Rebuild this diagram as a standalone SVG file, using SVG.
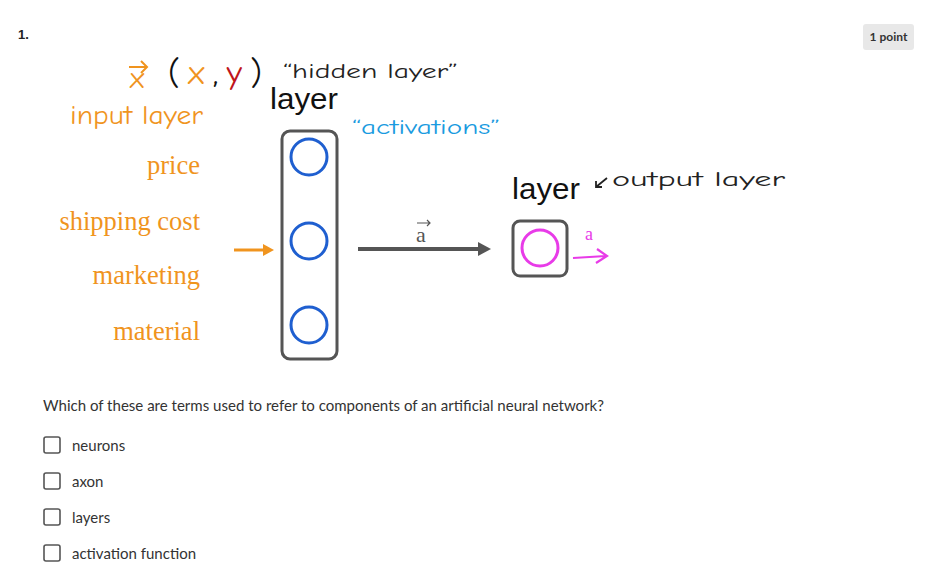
<svg xmlns="http://www.w3.org/2000/svg" width="936" height="579" viewBox="0 0 936 579">
<style>
.hand{font-family:"Comic Neue","DejaVu Sans",sans-serif}
.serif{font-family:"Liberation Serif","DejaVu Serif",serif;fill:#f0941e;font-size:26.5px}
.ui{font-family:"Lato","Liberation Sans",sans-serif;font-size:15px;fill:#333}
.box{fill:none;stroke:#555;stroke-width:3}
.hid{fill:none;stroke:#1f5fd0;stroke-width:3}
.chk{fill:#fff;stroke:#555;stroke-width:1.6}
</style>
<rect width="936" height="579" fill="#fff"/>
<text x="18" y="39" font-family="Liberation Sans,sans-serif" font-weight="bold" font-size="13" fill="#222">1.</text>
<g id="badge"><rect x="863" y="24" width="51" height="26" rx="3" fill="#e8e8e8"/><text x="888.5" y="41" text-anchor="middle" font-family="Lato,Liberation Sans,sans-serif" font-weight="bold" font-size="12" fill="#333">1 point</text></g>
<g id="annotations" class="hand">
<text x="130" y="88" font-size="30" fill="#f0941e">x</text>
<path d="M129,67 L147,67 M141,61 L147,67 L141,73" stroke="#f0941e" stroke-width="2" fill="none"/>
<text x="168" y="84" font-size="34" fill="#111" textLength="94" lengthAdjust="spacing">(<tspan fill="#f0941e">x</tspan>,<tspan fill="#c0151b">y</tspan>)</text>
<text x="283" y="78" font-size="21" fill="#222" textLength="175" lengthAdjust="spacingAndGlyphs">“hidden layer”</text>
<text x="70" y="124" font-size="27" fill="#f0941e" textLength="133" lengthAdjust="spacingAndGlyphs">input layer</text>
<text x="352" y="134" font-size="21" fill="#1a9be0" textLength="148" lengthAdjust="spacingAndGlyphs">“activations”</text>
<text x="612" y="186" font-size="21" fill="#222" textLength="173" lengthAdjust="spacingAndGlyphs">output layer</text>
<path d="M607,178 L596,187 M596,181 L596,187 L602,187" stroke="#222" stroke-width="1.8" fill="none"/>
</g>
<g id="layer-labels" font-family="Liberation Sans,Arial,sans-serif" font-size="30" fill="#111">
<text x="270" y="109" textLength="68" lengthAdjust="spacingAndGlyphs">layer</text>
<text x="512" y="199" textLength="68" lengthAdjust="spacingAndGlyphs">layer</text>
</g>
<g id="inputs" class="serif" text-anchor="end">
<text x="200" y="174">price</text>
<text x="200" y="230">shipping cost</text>
<text x="200" y="284">marketing</text>
<text x="200" y="340">material</text>
</g>
<g id="hidden-layer">
<rect class="box" x="282" y="131" width="55" height="228" rx="8"/>
<circle class="hid" cx="309" cy="157" r="18"/>
<circle class="hid" cx="309" cy="241" r="18"/>
<circle class="hid" cx="309" cy="325" r="18"/>
</g>
<g id="output-layer">
<rect class="box" x="513" y="221" width="54" height="55" rx="7"/>
<circle cx="540" cy="248" r="18" fill="none" stroke="#e83be8" stroke-width="3"/>
</g>
<g id="connectors">
<path d="M234,250 L266,250" stroke="#f0941e" stroke-width="3"/>
<path d="M263,244 L274,250 L263,256 Z" fill="#f0941e"/>
<path d="M358,249 L482,249" stroke="#555" stroke-width="4"/>
<path d="M478,242 L491,249 L478,256 Z" fill="#555"/>
<text x="416" y="242" font-family="Liberation Serif,serif" font-size="22" fill="#555">a</text>
<path d="M417,223 L430,223 M427,220 L430,223 L427,226" stroke="#555" stroke-width="1.2" fill="none"/>
<path d="M573,258 L606,256 M597,249 L607,256 L596,263" stroke="#e83be8" stroke-width="2.2" fill="none"/>
<text x="585" y="240" font-family="Liberation Serif,serif" font-size="18" fill="#e83be8">a</text>
</g>
<g id="question">
<text class="ui" x="43" y="411" textLength="561" lengthAdjust="spacingAndGlyphs">Which of these are terms used to refer to components of an artificial neural network?</text>
<rect class="chk" x="44" y="437" width="16" height="16" rx="2"/><text class="ui" x="72" y="451">neurons</text>
<rect class="chk" x="44" y="473" width="16" height="16" rx="2"/><text class="ui" x="72" y="487">axon</text>
<rect class="chk" x="44" y="509" width="16" height="16" rx="2"/><text class="ui" x="72" y="523">layers</text>
<rect class="chk" x="44" y="545" width="16" height="16" rx="2"/><text class="ui" x="72" y="559">activation function</text>
</g>
</svg>
